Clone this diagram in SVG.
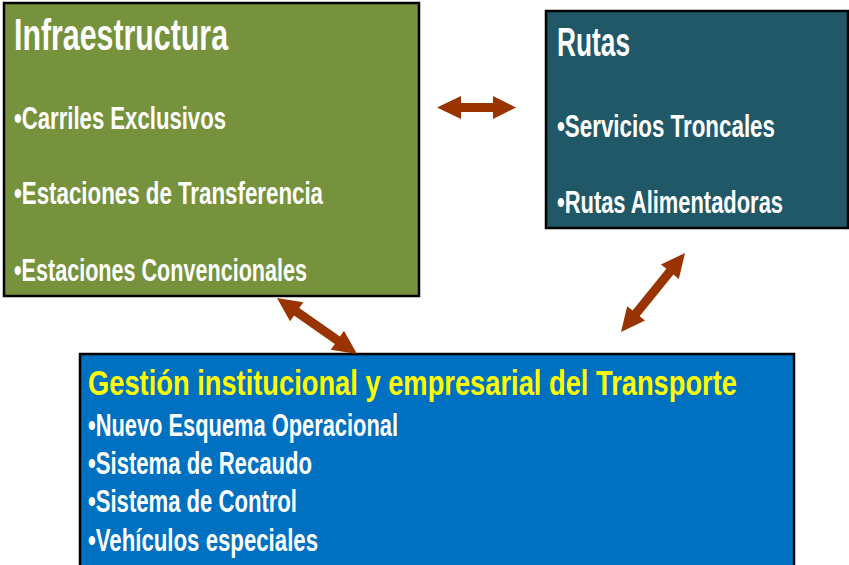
<svg xmlns="http://www.w3.org/2000/svg" width="849" height="565" viewBox="0 0 849 565">
<style>
.box{stroke:#000;stroke-width:2.5}
.t{font-family:"Liberation Sans",Arial,sans-serif;fill:#fff;font-weight:bold}
.h1{font-size:45px}
.h2{font-size:40px}
.it{font-size:32px}
.gt{font-size:35px;fill:#ffff00}
.arr{fill:#993300}
</style>
<rect width="849" height="565" fill="#fff"/>
<g id="infraestructura">
<rect class="box" x="4" y="3" width="415" height="293" fill="#76923c"/>
<text class="t h1" x="14" y="50" textLength="214" lengthAdjust="spacingAndGlyphs">Infraestructura</text>
<text class="t it" x="14" y="129" textLength="212" lengthAdjust="spacingAndGlyphs">•Carriles Exclusivos</text>
<text class="t it" x="14" y="204" textLength="309" lengthAdjust="spacingAndGlyphs">•Estaciones de Transferencia</text>
<text class="t it" x="14" y="281" textLength="293" lengthAdjust="spacingAndGlyphs">•Estaciones Convencionales</text>
</g>
<g id="rutas">
<rect class="box" x="546" y="11" width="302" height="217" fill="#215868"/>
<text class="t h2" x="557" y="56" textLength="73" lengthAdjust="spacingAndGlyphs">Rutas</text>
<text class="t it" x="557" y="137" textLength="218" lengthAdjust="spacingAndGlyphs">•Servicios Troncales</text>
<text class="t it" x="557" y="213" textLength="226" lengthAdjust="spacingAndGlyphs">•Rutas Alimentadoras</text>
</g>
<g id="gestion">
<rect class="box" x="80" y="354" width="714" height="220" fill="#0070c0"/>
<text class="t gt" x="88" y="395" textLength="649" lengthAdjust="spacingAndGlyphs">Gestión institucional y empresarial del Transporte</text>
<text class="t it" x="88" y="436" textLength="310" lengthAdjust="spacingAndGlyphs">•Nuevo Esquema Operacional</text>
<text class="t it" x="88" y="474" textLength="224" lengthAdjust="spacingAndGlyphs">•Sistema de Recaudo</text>
<text class="t it" x="88" y="512" textLength="209" lengthAdjust="spacingAndGlyphs">•Sistema de Control</text>
<text class="t it" x="88" y="551" textLength="230" lengthAdjust="spacingAndGlyphs">•Vehículos especiales</text>
</g>
<g id="connectors">
<polygon class="arr" points="437,107.5 461,96 461,103 493,103 493,96 516,107.5 493,119 493,112 461,112 461,119"/>
<g transform="translate(277,298) rotate(35)">
<polygon class="arr" points="0,0 24,-11.5 24,-4.5 73.7,-4.5 73.7,-11.5 97.7,0 73.7,11.5 73.7,4.5 24,4.5 24,11.5"/>
</g>
<g transform="translate(685,253) rotate(129)">
<polygon class="arr" points="0,0 24,-11.5 24,-4.5 77.7,-4.5 77.7,-11.5 101.7,0 77.7,11.5 77.7,4.5 24,4.5 24,11.5"/>
</g>
</g>
</svg>
